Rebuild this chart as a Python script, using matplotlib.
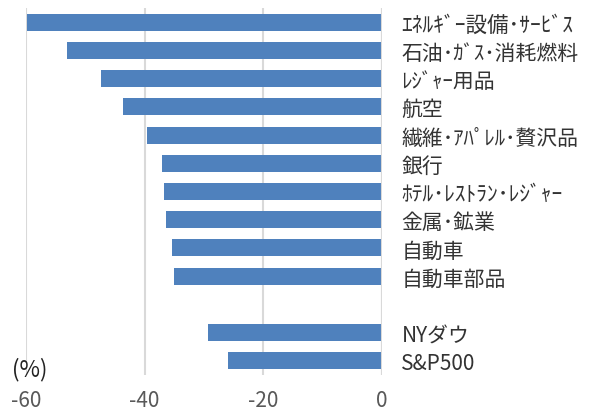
import matplotlib
matplotlib.use("Agg")
import matplotlib.pyplot as plt

plt.rcParams['font.family'] = ['Noto Sans CJK JP', 'DejaVu Sans']

categories = ["ｴﾈﾙｷﾞｰ設備･ｻｰﾋﾞｽ", "石油･ｶﾞｽ･消耗燃料", "ﾚｼﾞｬｰ用品", "航空",
              "繊維･ｱﾊﾟﾚﾙ･贅沢品", "銀行", "ﾎﾃﾙ･ﾚｽﾄﾗﾝ･ﾚｼﾞｬｰ", "金属･鉱業",
              "自動車", "自動車部品", "", "NYダウ", "S&P500"]
values = [-59.9, -53.1, -47.4, -43.7, -39.6, -37.0, -36.7, -36.4, -35.4, -35.0,
          None, -29.3, -25.9]
xticks = [-60, -40, -20, 0]

fig = plt.figure(figsize=(5.89, 4.14), dpi=100)
ax = fig.add_axes([26/589, 1-376/414, (382-26)/589, (376-9)/414])

pos = list(range(len(categories)))
bar_pos = [p for p, v in zip(pos, values) if v is not None]
bar_val = [v for v in values if v is not None]
ax.barh(bar_pos, bar_val, height=0.6, color="#4F81BD", zorder=3)

ax.set_xlim(-60, 0)
ax.set_ylim(len(categories) - 0.5, -0.5)
ax.set_xticks(xticks)
ax.set_xticklabels([str(t) for t in xticks])
ax.grid(axis='x', color="#D9D9D9", linewidth=1.5, zorder=0)
ax.axvline(0, color="#D9D9D9", linewidth=1.5, zorder=4)
for s in ax.spines.values():
    s.set_visible(False)
ax.tick_params(axis='x', length=0, pad=10, labelsize=15, labelcolor="#595959")
ax.yaxis.tick_right()
ax.set_yticks(pos)
ax.set_yticklabels(categories)
ax.tick_params(axis='y', length=0, pad=14, labelsize=15, labelcolor="#333333")
for lab in ax.get_yticklabels():
    if lab.get_text() in ("ｴﾈﾙｷﾞｰ設備･ｻｰﾋﾞｽ", "ﾎﾃﾙ･ﾚｽﾄﾗﾝ･ﾚｼﾞｬｰ"):
        lab.set_fontsize(15.5)

fig.text(12/589, 1-370/414, "(%)", fontsize=16, color="#222222", va='center', ha='left')

fig.savefig("out.png", dpi=100)
